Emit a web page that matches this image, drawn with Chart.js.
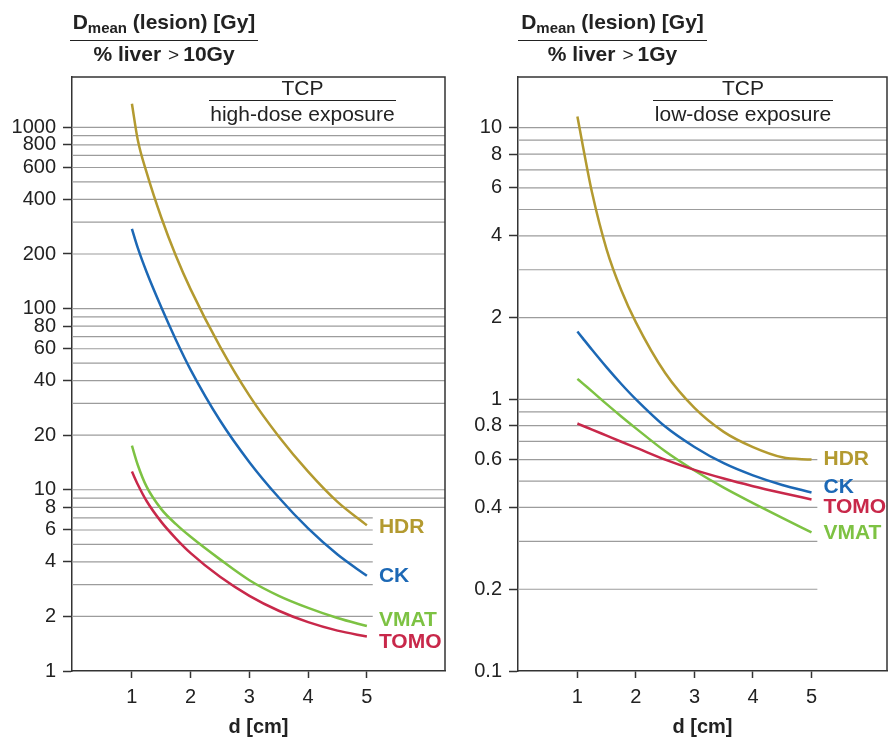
<!DOCTYPE html>
<html>
<head>
<meta charset="utf-8">
<script src="https://cdn.jsdelivr.net/npm/chart.js@4"></script>
<style>
  body { margin: 0; background: #fff; font-family: "Liberation Sans", Arial, sans-serif; color: #222; }
  #page { position: relative; width: 888px; height: 740px; overflow: hidden; }
  .box { position: absolute; top: 0; }
  .ttl { position: absolute; text-align: center; font-weight: bold; font-size: 21px; line-height: 24px; white-space: nowrap; }
  .ttl.top { border-bottom: 1.5px solid #222; padding-bottom: 4px; }
  .ttl sub { font-size: 15px; position: relative; top: 4px; vertical-align: baseline; }
  .gt { font-weight: normal; font-size: 19px; margin: 0 4px 0 7px; }
  .note { position: absolute; text-align: center; font-size: 21px; line-height: 24px; white-space: nowrap; }
  .note.top { border-bottom: 1.5px solid #222; }
</style>
</head>
<body>
<div id="page">
  <div class="box" style="left:0;width:450px;height:740px"><canvas id="highChart" width="450" height="740"></canvas></div>
  <div class="box" style="left:450px;width:438px;height:740px"><canvas id="lowChart" width="438" height="740"></canvas></div>

  <div class="ttl top" style="left:70px;top:10px;width:188px">D<sub>mean</sub> (lesion) [Gy]</div>
  <div class="ttl" style="left:70px;top:42px;width:188px">% liver<span class="gt">&gt;</span>10Gy</div>
  <div class="ttl top" style="left:518px;top:10px;width:189px">D<sub>mean</sub> (lesion) [Gy]</div>
  <div class="ttl" style="left:518px;top:42px;width:189px">% liver<span class="gt">&gt;</span>1Gy</div>

  <div class="note top" style="left:209px;top:76px;width:187px">TCP</div>
  <div class="note" style="left:209px;top:102px;width:187px">high-dose exposure</div>
  <div class="note top" style="left:653px;top:76px;width:180px">TCP</div>
  <div class="note" style="left:653px;top:102px;width:180px">low-dose exposure</div>
</div>
<script>
// lesion diameter d [cm]
const D_CM = [1, 1.1, 1.25, 1.5, 1.75, 2, 2.5, 3, 3.5, 4, 4.5, 5];

// left panel: Dmean / % liver > 10Gy
const HIGH_HDR  = [1350, 851, 564, 318, 195, 127.6, 61.7, 33.1, 19.7, 12.6, 8.58, 6.37];
const HIGH_CK   = [275, 216, 159, 101.6, 67.1, 45.9, 24.1, 14.2, 9.06, 6.12, 4.39, 3.35];
const HIGH_VMAT = [17.5, 13.7, 10.4, 7.82, 6.46, 5.5, 4.13, 3.17, 2.6, 2.23, 1.96, 1.77];
const HIGH_TOMO = [12.6, 10.7, 8.67, 6.65, 5.38, 4.47, 3.31, 2.6, 2.15, 1.86, 1.67, 1.55];

// right panel: Dmean / % liver > 1Gy
const LOW_HDR  = [11.0, 8.42, 5.77, 3.56, 2.52, 1.92, 1.25, 0.93, 0.759, 0.667, 0.612, 0.6];
const LOW_CK   = [1.778, 1.67, 1.522, 1.311, 1.139, 1.0, 0.794, 0.668, 0.582, 0.525, 0.484, 0.454];
const LOW_TOMO = [0.815, 0.798, 0.774, 0.735, 0.698, 0.664, 0.6, 0.55, 0.511, 0.479, 0.452, 0.428];
const LOW_VMAT = [1.19, 1.14, 1.07, 0.96, 0.865, 0.782, 0.644, 0.547, 0.473, 0.415, 0.366, 0.324];

const X_TICKS = [1, 2, 3, 4, 5];
const HIGH_TICKS = [1, 2, 4, 6, 8, 10, 20, 40, 60, 80, 100, 200, 400, 600, 800, 1000];
const LOW_TICKS = [0.1, 0.2, 0.4, 0.6, 0.8, 1, 2, 4, 6, 8, 10];
const HIGH_GRID = [2,3,4,5,6,7,8,9,10,20,30,40,50,60,70,80,90,100,200,300,400,500,600,700,800,900,1000];
const HIGH_SHORT = [2,3,4,5,6,7];
const LOW_GRID = [0.2,0.3,0.4,0.5,0.6,0.7,0.8,0.9,1,2,3,4,5,6,7,8,9,10];
const LOW_SHORT = [0.2,0.3,0.4,0.6];

const COLORS = { HDR: "#b39a30", CK: "#1c68b5", VMAT: "#7dc243", TOMO: "#c8284a" };
const FONT = '"Liberation Sans", Arial, sans-serif';

Chart.defaults.font.family = FONT;
Chart.defaults.color = "#222";

function series(label, vals) {
  return {
    label: label,
    data: D_CM.map((d, i) => ({ x: d, y: vals[i] })),
    borderColor: COLORS[label],
    borderWidth: 2.5,
    pointRadius: 0,
    cubicInterpolationMode: "monotone",
    fill: false
  };
}

// minor log grid, some lines stop short where the series labels sit
const logGrid = {
  id: "logGrid",
  beforeDatasetsDraw(chart, args, opts) {
    const { ctx, chartArea, scales: { x, y } } = chart;
    ctx.save();
    ctx.strokeStyle = "#9c9c9c";
    ctx.lineWidth = 1.2;
    opts.lines.forEach(v => {
      const py = y.getPixelForValue(v);
      const xEnd = opts.short.includes(v) ? x.getPixelForValue(opts.cutAt) : chartArea.right;
      ctx.beginPath();
      ctx.moveTo(chartArea.left, py);
      ctx.lineTo(xEnd, py);
      ctx.stroke();
    });
    // top and right of the frame
    ctx.strokeStyle = "#333";
    ctx.lineWidth = 1.5;
    ctx.beginPath();
    ctx.moveTo(chartArea.left, chartArea.top);
    ctx.lineTo(chartArea.right, chartArea.top);
    ctx.lineTo(chartArea.right, chartArea.bottom);
    ctx.stroke();
    ctx.restore();
  }
};

const seriesLabels = {
  id: "seriesLabels",
  afterDatasetsDraw(chart, args, opts) {
    const ctx = chart.ctx;
    chart.data.datasets.forEach((ds, i) => {
      const pts = chart.getDatasetMeta(i).data;
      const last = pts[pts.length - 1];
      ctx.save();
      ctx.fillStyle = ds.borderColor;
      ctx.font = "bold 21px " + FONT;
      ctx.textBaseline = "middle";
      ctx.fillText(ds.label, last.x + 12, last.y + opts.dy[i]);
      ctx.restore();
    });
  }
};

function makeChart(id, datasets, cfg) {
  return new Chart(document.getElementById(id), {
    type: "line",
    data: { datasets: datasets },
    plugins: [logGrid, seriesLabels],
    options: {
      responsive: false,
      animation: false,
      layout: { padding: { left: 0, top: 77, right: cfg.padRight, bottom: 0 } },
      plugins: {
        legend: { display: false },
        tooltip: { enabled: false },
        logGrid: { lines: cfg.grid, short: cfg.short, cutAt: 5.1 },
        seriesLabels: { dy: cfg.labelDy }
      },
      scales: {
        x: {
          type: "linear",
          min: cfg.xMin, max: cfg.xMax,
          afterBuildTicks: s => { s.ticks = X_TICKS.map(v => ({ value: v })); },
          afterFit: s => { s.height = 69; },
          grid: { drawOnChartArea: false, tickLength: 7, tickColor: "#333", tickWidth: 1.5 },
          border: { color: "#333", width: 1.5 },
          ticks: { font: { size: 20 }, color: "#222", padding: 7 },
          title: { display: true, text: "d [cm]", font: { size: 20, weight: "bold" }, color: "#222", padding: { top: 0, bottom: 1 } }
        },
        y: {
          type: "logarithmic",
          min: cfg.yMin, max: cfg.yMax,
          afterBuildTicks: s => { s.ticks = cfg.ticks.map(v => ({ value: v })); },
          afterFit: s => { s.width = cfg.yWidth; },
          grid: { drawOnChartArea: false, tickLength: 9, tickColor: "#333", tickWidth: 1.5 },
          border: { color: "#333", width: 1.5 },
          ticks: { autoSkip: false, font: { size: 20 }, color: "#222", padding: 7,
                   callback: v => String(v) }
        }
      }
    }
  });
}

makeChart("highChart",
  [series("HDR", HIGH_HDR), series("CK", HIGH_CK), series("VMAT", HIGH_VMAT), series("TOMO", HIGH_TOMO)],
  { yMin: 1, yMax: 1895, ticks: HIGH_TICKS, grid: HIGH_GRID, short: HIGH_SHORT,
    xMin: -0.02, xMax: 6.33, yWidth: 72, padRight: 5, labelDy: [2, 0, -6, 6] });

makeChart("lowChart",
  [series("HDR", LOW_HDR), series("CK", LOW_CK), series("TOMO", LOW_TOMO), series("VMAT", LOW_VMAT)],
  { yMin: 0.1, yMax: 15.37, ticks: LOW_TICKS, grid: LOW_GRID, short: LOW_SHORT,
    xMin: -0.015, xMax: 6.29, yWidth: 68, padRight: 1, labelDy: [0, -5, 8, 1] });
</script>
</body>
</html>
